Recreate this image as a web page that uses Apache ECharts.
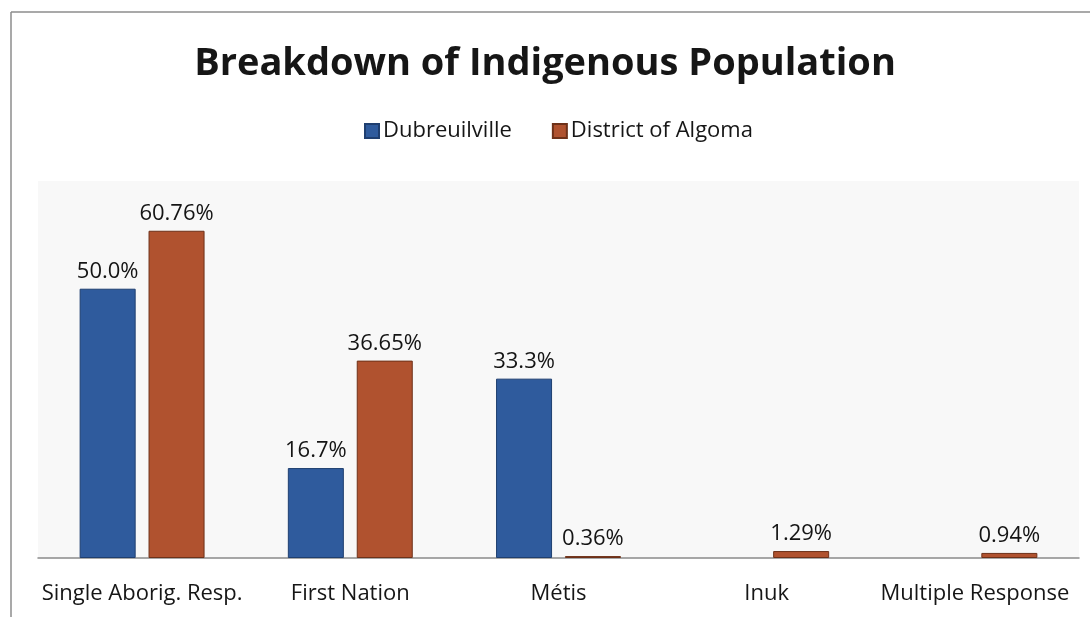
<!DOCTYPE html>
<html>
<head>
<meta charset="utf-8">
<script src="https://cdn.jsdelivr.net/npm/echarts@6/dist/echarts.min.js"></script>
<style>
html,body{margin:0;padding:0;background:#fff;}
#chart{width:1090px;height:617px;}
</style>
</head>
<body>
<div id="chart"></div>
<script>
const categories = ['Single Aborig. Resp.', 'First Nation', 'Métis', 'Inuk', 'Multiple Response'];
const dubreuilville = [50.0, 16.7, 33.3, null, null];
const algoma = [60.76, 36.65, 0.36, 1.29, 0.94];
const seriesNames = ['Dubreuilville', 'District of Algoma'];
const yMax = 70;

const FONT = 'Open Sans';
const chart = echarts.init(document.getElementById('chart'), null, {renderer: 'canvas'});
const labelStyle = {color: '#141414', fontFamily: FONT, fontSize: 22, distance: 6};
chart.setOption({
  backgroundColor: '#ffffff',
  animation: false,
  title: {
    text: 'Breakdown of Indigenous Population',
    left: 'center',
    top: 40,
    textStyle: {fontFamily: FONT, fontWeight: 'bold', fontSize: 38, color: '#161616'}
  },
  legend: {
    data: seriesNames,
    top: 115,
    left: 359,
    itemWidth: 14,
    itemHeight: 14,
    itemGap: 40,
    icon: 'rect',
    textStyle: {fontFamily: FONT, fontSize: 22, color: '#161616', padding: [0, 0, 0, -1]}
  },
  grid: {left: 38, right: 11, top: 181, bottom: 59, show: true, backgroundColor: '#f8f8f8', borderWidth: 0},
  xAxis: {
    type: 'category',
    data: categories,
    axisLine: {lineStyle: {color: '#8a8a8a', width: 1.5}},
    axisTick: {show: false},
    axisLabel: {interval: 0, fontFamily: FONT, fontSize: 22, color: '#161616', margin: 25}
  },
  yAxis: {
    type: 'value', min: 0, max: yMax, show: false, splitLine: {show: false}
  },
  series: [
    {
      name: seriesNames[0], type: 'bar', data: dubreuilville,
      barGap: '23%', barCategoryGap: '40%',
      itemStyle: {color: '#2f5b9d', borderColor: '#1f3f70', borderWidth: 1},
      label: Object.assign({show: true, position: 'top', formatter: p => p.value == null ? '' : p.value.toFixed(1) + '%'}, labelStyle)
    },
    {
      name: seriesNames[1], type: 'bar', data: algoma,
      barGap: '23%', barCategoryGap: '40%',
      itemStyle: {color: '#b0522f', borderColor: '#6e3119', borderWidth: 1},
      label: Object.assign({show: true, position: 'top', formatter: p => p.value.toFixed(2) + '%'}, labelStyle)
    }
  ],
  graphic: [
    {type: 'line', shape: {x1: 11, y1: 12, x2: 1090, y2: 12}, style: {stroke: '#8c8c8c', lineWidth: 1.5}},
    {type: 'line', shape: {x1: 11, y1: 12, x2: 11, y2: 617}, style: {stroke: '#8c8c8c', lineWidth: 1.5}}
  ]
});
</script>
</body>
</html>
